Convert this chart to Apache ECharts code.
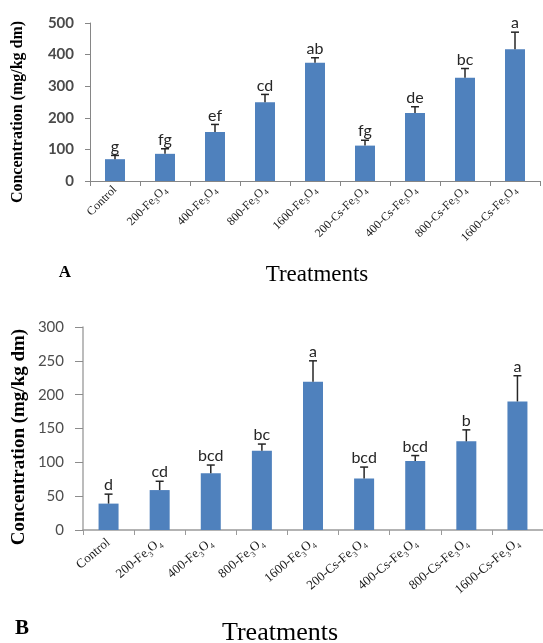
<!DOCTYPE html>
<html>
<head>
<meta charset="utf-8">
<script src="https://cdn.jsdelivr.net/npm/echarts@6/dist/echarts.min.js"></script>
<style>
  html, body { margin: 0; padding: 0; background: #ffffff; }
  #chart { width: 543px; height: 643px; }
</style>
</head>
<body>
<div id="chart"></div>
<script>
// Treatments (shared by both panels)
const categories = ['Control', '200-Fe3O4', '400-Fe3O4', '800-Fe3O4', '1600-Fe3O4',
  '200-Cs-Fe3O4', '400-Cs-Fe3O4', '800-Cs-Fe3O4', '1600-Cs-Fe3O4'];

// Panel A: mean concentration, standard deviation, significance letters
const meansA = [69, 86, 155, 249, 374, 112, 215, 327, 417];
const errorsA = [12, 16, 24, 25, 16, 17, 20, 29, 54];
const lettersA = ['g', 'fg', 'ef', 'cd', 'ab', 'fg', 'de', 'bc', 'a'];
const ticksA = [0, 100, 200, 300, 400, 500];

// Panel B
const meansB = [39, 59, 84, 117, 219, 76, 102, 131, 190];
const errorsB = [14, 13, 12, 10, 31, 17, 8, 17, 38];
const lettersB = ['d', 'cd', 'bcd', 'bc', 'a', 'bcd', 'bcd', 'b', 'a'];
const ticksB = [0, 50, 100, 150, 200, 250, 300];

const BAR = '#4F81BD';
const chart = echarts.init(document.getElementById('chart'), null, { renderer: 'canvas' });

function subscriptLabel(v) {
  return v.replace('Fe3O4', 'Fe{s|3}O{s|4}');
}

function errorSeries(gridIdx, means, errors, letters, font, color) {
  return {
    type: 'custom',
    xAxisIndex: gridIdx,
    yAxisIndex: gridIdx,
    z: 5,
    data: means.map((m, i) => [i, m, errors[i]]),
    renderItem: function (params, api) {
      const i = api.value(0), m = api.value(1), e = api.value(2);
      const p0 = api.coord([i, m]);
      const p1 = api.coord([i, m + e]);
      const ls = { stroke: '#262626', lineWidth: 1.5 };
      return {
        type: 'group',
        children: [
          { type: 'line', shape: { x1: p0[0], y1: p0[1], x2: p1[0], y2: p1[1] }, style: ls },
          { type: 'line', shape: { x1: p1[0] - 4, y1: p1[1], x2: p1[0] + 4, y2: p1[1] }, style: ls },
          {
            type: 'text',
            style: {
              text: letters[params.dataIndex], x: p1[0], y: p1[1] - 1,
              align: 'center', verticalAlign: 'bottom',
              font: font, fill: color
            }
          }
        ]
      };
    }
  };
}

const option = {
  animation: false,
  backgroundColor: '#ffffff',
  grid: [
    { left: 90, top: 23, width: 450, height: 158 },
    { left: 83, top: 327, width: 463, height: 203 }
  ],
  xAxis: [
    {
      gridIndex: 0, type: 'category', data: categories,
      axisLine: { lineStyle: { color: '#868686', width: 1 } },
      axisTick: { show: true, length: 5, lineStyle: { color: '#868686' } },
      axisLabel: {
        rotate: 45, margin: 7, interval: 0,
        fontFamily: 'Liberation Serif', fontSize: 12, color: '#1a1a1a', lineHeight: 16,
        formatter: subscriptLabel,
        rich: { s: { fontFamily: 'Liberation Serif', fontSize: 8, color: '#1a1a1a', verticalAlign: 'bottom', lineHeight: 16 } }
      }
    },
    {
      gridIndex: 1, type: 'category', data: categories,
      axisLine: { lineStyle: { color: '#9a9a9a', width: 1.5 } },
      axisTick: { show: true, length: 5, lineStyle: { color: '#9a9a9a' } },
      axisLabel: {
        rotate: 40, margin: 11, interval: 0,
        fontFamily: 'Liberation Serif', fontSize: 13, color: '#1a1a1a', lineHeight: 18,
        formatter: subscriptLabel,
        rich: { s: { fontFamily: 'Liberation Serif', fontSize: 8, color: '#1a1a1a', verticalAlign: 'bottom', lineHeight: 18 } }
      }
    }
  ],
  yAxis: [
    {
      gridIndex: 0, type: 'value', min: ticksA[0], max: ticksA[ticksA.length - 1], interval: 100,
      axisLine: { show: true, lineStyle: { color: '#868686', width: 1 } },
      axisTick: { show: true, length: 5, lineStyle: { color: '#868686' } },
      splitLine: { show: false },
      axisLabel: { margin: 16, fontFamily: 'Lato', fontSize: 15, fontWeight: 'bold', color: '#4a4a4a' }
    },
    {
      gridIndex: 1, type: 'value', min: ticksB[0], max: ticksB[ticksB.length - 1], interval: 50,
      axisLine: { show: true, lineStyle: { color: '#a6a6a6', width: 1.5 } },
      axisTick: { show: true, length: 8, lineStyle: { color: '#8c8c8c' } },
      splitLine: { show: false },
      axisLabel: { margin: 19, fontFamily: 'Lato', fontSize: 15, color: '#4d4d4d' }
    }
  ],
  graphic: [
    { type: 'text', x: 18, y: 112, rotation: Math.PI / 2,
      style: { text: 'Concentration (mg/kg dm)', align: 'center', verticalAlign: 'middle',
        font: 'bold 16px "Liberation Serif"', fill: '#000' } },
    { type: 'text', x: 317, y: 275,
      style: { text: 'Treatments', align: 'center', verticalAlign: 'middle',
        font: '23px "Liberation Serif"', fill: '#000' } },
    { type: 'text', x: 65, y: 273,
      style: { text: 'A', align: 'center', verticalAlign: 'middle',
        font: 'bold 17px "Liberation Serif"', fill: '#000' } },
    { type: 'text', x: 19, y: 437, rotation: Math.PI / 2,
      style: { text: 'Concentration (mg/kg dm)', align: 'center', verticalAlign: 'middle',
        font: 'bold 19px "Liberation Serif"', fill: '#000' } },
    { type: 'text', x: 280, y: 633,
      style: { text: 'Treatments', align: 'center', verticalAlign: 'middle',
        font: '26px "Liberation Serif"', fill: '#000' } },
    { type: 'text', x: 22, y: 629,
      style: { text: 'B', align: 'center', verticalAlign: 'middle',
        font: 'bold 21px "Liberation Serif"', fill: '#000' } }
  ],
  series: [
    { type: 'bar', xAxisIndex: 0, yAxisIndex: 0, data: meansA, barWidth: 20,
      itemStyle: { color: BAR } },
    errorSeries(0, meansA, errorsA, lettersA, '16px Lato', '#262626'),
    { type: 'bar', xAxisIndex: 1, yAxisIndex: 1, data: meansB, barWidth: 20,
      itemStyle: { color: BAR } },
    errorSeries(1, meansB, errorsB, lettersB, '16px Lato', '#262626')
  ]
};

chart.setOption(option);
</script>
</body>
</html>
